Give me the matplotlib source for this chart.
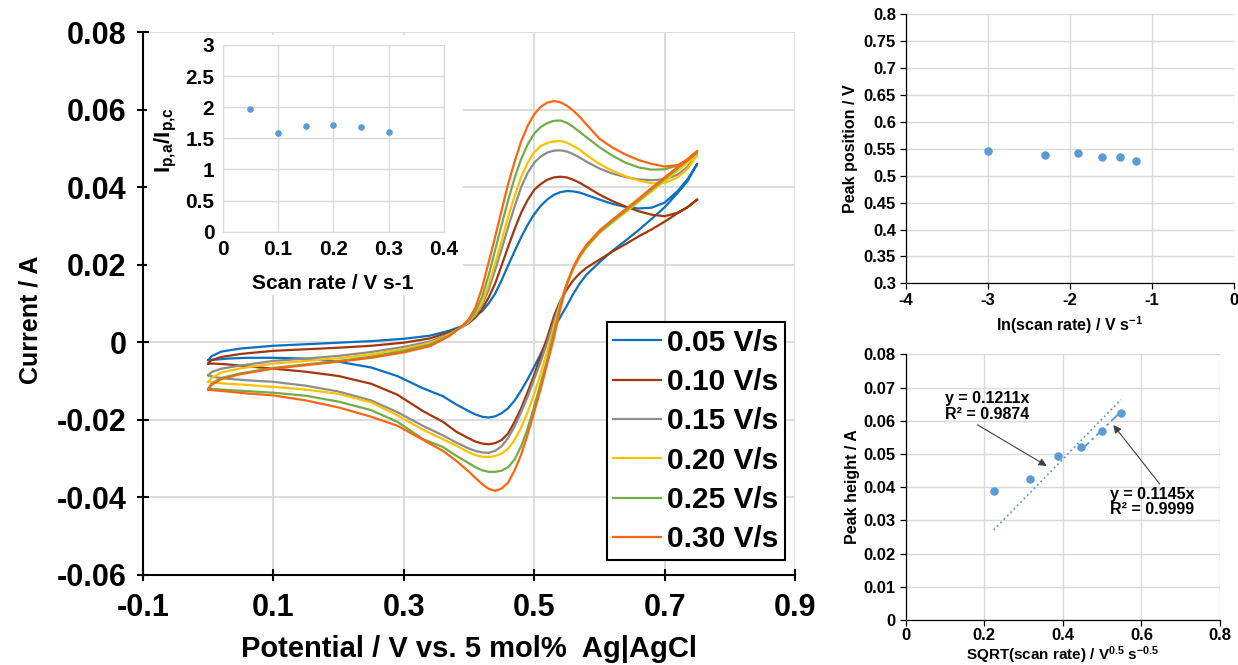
import matplotlib
matplotlib.use('Agg')
import matplotlib.pyplot as plt
from matplotlib.patches import Rectangle
import numpy as np

plt.rcParams['font.family'] = ['Liberation Sans', 'DejaVu Sans']
plt.rcParams['font.weight'] = 'bold'
plt.rcParams['mathtext.default'] = 'regular'

# ---- cyclic voltammograms (potential in V, current in A) ----
scan_labels = ['0.05 V/s', '0.10 V/s', '0.15 V/s', '0.20 V/s', '0.25 V/s', '0.30 V/s']
scan_colors = ['#0A70C2', '#A3360C', '#8C8C8C', '#FFC000', '#70AD47', '#FF6410']

E_fwd = [0.00, 0.005, 0.02, 0.05, 0.10, 0.15, 0.20, 0.25, 0.30, 0.34, 0.37, 0.39, 0.40, 0.41,
         0.42, 0.43, 0.44, 0.45, 0.46, 0.47, 0.48, 0.49, 0.50, 0.51, 0.52, 0.53, 0.54, 0.55,
         0.56, 0.57, 0.58, 0.60, 0.62, 0.64, 0.66, 0.68, 0.70, 0.72, 0.735, 0.75]
E_rev = [0.75, 0.735, 0.72, 0.70, 0.68, 0.66, 0.64, 0.62, 0.60, 0.58, 0.57, 0.56, 0.55, 0.54,
         0.53, 0.52, 0.51, 0.50, 0.49, 0.48, 0.47, 0.46, 0.45, 0.44, 0.43, 0.42, 0.41, 0.40,
         0.38, 0.36, 0.33, 0.29, 0.25, 0.20, 0.15, 0.10, 0.06, 0.03, 0.01, 0.00]

i_fwd_005 = [-0.0046, -0.0036, -0.0024, -0.0016, -0.0009, -0.0005, -0.0001, 0.0003, 0.0009, 0.0017,
             0.0030, 0.0042, 0.0052, 0.0068, 0.0080, 0.0100, 0.0125, 0.0160, 0.0198, 0.0235,
             0.0271, 0.0303, 0.0330, 0.0352, 0.0368, 0.0380, 0.0387, 0.0390, 0.0389, 0.0386,
             0.0380, 0.0368, 0.0357, 0.0349, 0.0345, 0.0347, 0.0360, 0.0390, 0.0420, 0.0460]
i_rev_005 = [0.0460, 0.0415, 0.0385, 0.0348, 0.0318, 0.0289, 0.0262, 0.0236, 0.0206, 0.0174,
             0.0152, 0.0125, 0.0094, 0.0065, 0.0035, 0.0005, -0.0030, -0.0063, -0.0095, -0.0124,
             -0.0150, -0.0170, -0.0183, -0.0191, -0.0194, -0.0192, -0.0186, -0.0178, -0.0160, -0.0139,
             -0.0119, -0.0087, -0.0065, -0.0050, -0.0042, -0.0040, -0.0040, -0.0042, -0.0045, -0.0046]

i_fwd_010 = [-0.0055, -0.0046, -0.0038, -0.0030, -0.0022, -0.0018, -0.0014, -0.0009, -0.0001, 0.0010,
             0.0026, 0.0040, 0.0050, 0.0064, 0.0085, 0.0115, 0.0151, 0.0198, 0.0246, 0.0292,
             0.0334, 0.0367, 0.0393, 0.0408, 0.0419, 0.0425, 0.0427, 0.0425, 0.0419, 0.0411,
             0.0401, 0.0381, 0.0364, 0.0350, 0.0338, 0.0329, 0.0325, 0.0334, 0.0348, 0.0368]
i_rev_010 = [0.0368, 0.0348, 0.0333, 0.0311, 0.0291, 0.0273, 0.0253, 0.0234, 0.0213, 0.0192,
             0.0178, 0.0160, 0.0136, 0.0107, 0.0066, 0.0012, -0.0035, -0.0084, -0.0128, -0.0170,
             -0.0205, -0.0235, -0.0252, -0.0260, -0.0263, -0.0261, -0.0256, -0.0248, -0.0230, -0.0205,
             -0.0178, -0.0135, -0.0107, -0.0087, -0.0076, -0.0068, -0.0062, -0.0057, -0.0055, -0.0055]

i_fwd_015 = [-0.0085, -0.0077, -0.0068, -0.0060, -0.0048, -0.0042, -0.0035, -0.0025, -0.0012, 0.0002,
             0.0022, 0.0040, 0.0052, 0.0070, 0.0095, 0.0135, 0.0186, 0.0240, 0.0297, 0.0350,
             0.0400, 0.0437, 0.0463, 0.0479, 0.0489, 0.0494, 0.0495, 0.0492, 0.0485, 0.0476,
             0.0466, 0.0448, 0.0435, 0.0426, 0.0420, 0.0418, 0.0420, 0.0432, 0.0452, 0.0485]
i_rev_015 = [0.0485, 0.0464, 0.0445, 0.0418, 0.0391, 0.0364, 0.0337, 0.0311, 0.0283, 0.0245,
             0.0221, 0.0190, 0.0150, 0.0103, 0.0052, 0.0000, -0.0050, -0.0095, -0.0140, -0.0180,
             -0.0217, -0.0247, -0.0268, -0.0280, -0.0285, -0.0284, -0.0280, -0.0274, -0.0258, -0.0240,
             -0.0216, -0.0180, -0.0150, -0.0127, -0.0112, -0.0102, -0.0098, -0.0094, -0.0090, -0.0085]

i_fwd_020 = [-0.0102, -0.0092, -0.0078, -0.0067, -0.0055, -0.0048, -0.0041, -0.0031, -0.0017, -0.0002,
             0.0020, 0.0041, 0.0054, 0.0075, 0.0102, 0.0148, 0.0203, 0.0262, 0.0323, 0.0377,
             0.0426, 0.0463, 0.0490, 0.0506, 0.0514, 0.0518, 0.0519, 0.0515, 0.0506, 0.0496,
             0.0483, 0.0460, 0.0442, 0.0428, 0.0417, 0.0410, 0.0411, 0.0425, 0.0447, 0.0482]
i_rev_020 = [0.0482, 0.0462, 0.0443, 0.0416, 0.0389, 0.0362, 0.0335, 0.0309, 0.0281, 0.0244,
             0.0220, 0.0189, 0.0148, 0.0100, 0.0040, -0.0022, -0.0080, -0.0133, -0.0180, -0.0220,
             -0.0252, -0.0274, -0.0287, -0.0293, -0.0296, -0.0295, -0.0291, -0.0284, -0.0266, -0.0250,
             -0.0226, -0.0188, -0.0155, -0.0133, -0.0122, -0.0115, -0.0110, -0.0107, -0.0104, -0.0102]

i_fwd_025 = [-0.0120, -0.0107, -0.0092, -0.0080, -0.0066, -0.0057, -0.0048, -0.0037, -0.0022, -0.0006,
             0.0018, 0.0042, 0.0056, 0.0080, 0.0117, 0.0172, 0.0237, 0.0302, 0.0366, 0.0424,
             0.0473, 0.0510, 0.0538, 0.0555, 0.0565, 0.0571, 0.0572, 0.0566, 0.0555, 0.0542,
             0.0529, 0.0503, 0.0481, 0.0463, 0.0451, 0.0445, 0.0446, 0.0456, 0.0470, 0.0491]
i_rev_025 = [0.0491, 0.0469, 0.0449, 0.0421, 0.0394, 0.0366, 0.0339, 0.0312, 0.0284, 0.0247,
             0.0223, 0.0192, 0.0151, 0.0095, 0.0025, -0.0045, -0.0105, -0.0165, -0.0222, -0.0268,
             -0.0302, -0.0322, -0.0331, -0.0334, -0.0334, -0.0330, -0.0322, -0.0312, -0.0292, -0.0270,
             -0.0250, -0.0205, -0.0175, -0.0153, -0.0138, -0.0130, -0.0126, -0.0123, -0.0121, -0.0120]

i_fwd_030 = [-0.0122, -0.0110, -0.0095, -0.0082, -0.0068, -0.0059, -0.0050, -0.0040, -0.0026, -0.0010,
             0.0016, 0.0043, 0.0060, 0.0090, 0.0140, 0.0205, 0.0271, 0.0340, 0.0408, 0.0466,
             0.0518, 0.0558, 0.0588, 0.0607, 0.0618, 0.0622, 0.0619, 0.0610, 0.0597, 0.0581,
             0.0562, 0.0525, 0.0502, 0.0484, 0.0470, 0.0460, 0.0453, 0.0457, 0.0470, 0.0493]
i_rev_030 = [0.0493, 0.0472, 0.0452, 0.0425, 0.0398, 0.0370, 0.0343, 0.0316, 0.0288, 0.0251,
             0.0226, 0.0194, 0.0150, 0.0085, 0.0010, -0.0055, -0.0120, -0.0180, -0.0237, -0.0290,
             -0.0330, -0.0362, -0.0377, -0.0383, -0.0378, -0.0365, -0.0350, -0.0334, -0.0305, -0.0280,
             -0.0252, -0.0215, -0.0192, -0.0168, -0.0150, -0.0137, -0.0132, -0.0127, -0.0124, -0.0122]

i_fwd_all = [i_fwd_005, i_fwd_010, i_fwd_015, i_fwd_020, i_fwd_025, i_fwd_030]
i_rev_all = [i_rev_005, i_rev_010, i_rev_015, i_rev_020, i_rev_025, i_rev_030]

# ---- scan rate analysis ----
scan_rate = [0.05, 0.10, 0.15, 0.20, 0.25, 0.30]
peak_ratio = [1.97, 1.59, 1.70, 1.72, 1.68, 1.61]
ln_rate = [-3.00, -2.30, -1.90, -1.61, -1.39, -1.20]
peak_pos = [0.546, 0.539, 0.542, 0.535, 0.534, 0.527]
sqrt_rate = [0.224, 0.316, 0.387, 0.447, 0.500, 0.548]
peak_height = [0.0388, 0.0426, 0.0494, 0.0521, 0.0570, 0.0623]
fit_all_slope, fit_all_r2 = 0.1211, 0.9874
fit_fast_slope, fit_fast_r2 = 0.1145, 0.9999

W, H = 1238, 665
GRID = '#D9D9D9'
DOT = '#5B9BD5'

fig = plt.figure(figsize=(W / 100, H / 100), dpi=100)


def px_axes(x0, y0, x1, y1):
    return fig.add_axes([x0 / W, 1 - y1 / H, (x1 - x0) / W, (y1 - y0) / H])


def px_text(x, y, s, **kw):
    return fig.text(x / W, 1 - y / H, s, ha='center', va='center', **kw)


# main CV panel
ax = px_axes(143, 32, 795, 575)
for i_f, i_r, lab, c in zip(i_fwd_all, i_rev_all, scan_labels, scan_colors):
    ax.plot(E_fwd + E_rev, i_f + i_r, color=c, lw=1.6, label=lab, zorder=3,
            solid_joinstyle='round')
ax.set_xlim(-0.1, 0.9)
ax.set_ylim(-0.06, 0.08)
xt = np.arange(-0.1, 0.91, 0.2)
ax.set_xticks(xt)
ax.set_xticklabels(['%.1f' % v for v in xt])
yt = np.arange(-0.06, 0.081, 0.02)
ax.set_yticks(yt)
ax.set_yticklabels(['0' if abs(v) < 1e-9 else '%.2f' % v for v in yt])
ax.grid(True, color=GRID, lw=1.3)
ax.set_axisbelow(True)
for s in ['top', 'right']:
    ax.spines[s].set_visible(False)
for s in ['left', 'bottom']:
    ax.spines[s].set_linewidth(1.5)
ax.tick_params(direction='inout', length=8, width=1.5, labelsize=22)
ax.tick_params(axis='y', pad=8)
ax.tick_params(axis='x', pad=9)

leg = ax.legend(loc='lower right', bbox_to_anchor=((785 - 143) / 652, (575 - 560) / 543),
                borderaxespad=0, fontsize=21.5, handlelength=1.6, handletextpad=0.2,
                labelspacing=0.38, borderpad=0.22, fancybox=False, edgecolor='black',
                framealpha=1)
leg.get_frame().set_linewidth(1.5)

# white chart area behind the inset
ax.add_patch(Rectangle((4 / 652, (575 - 295) / 543), (463 - 147) / 652, (295 - 35) / 543,
                       transform=ax.transAxes, facecolor='white', edgecolor='none', zorder=2.5))

px_text(469, 649, 'Potential / V vs. 5 mol%  Ag|AgCl', fontsize=21)
px_text(31, 320, 'Current / A', fontsize=18, rotation=90)

# inset: peak current ratio
ins = px_axes(222.7, 45, 444, 231.7)
ins.scatter(scan_rate, peak_ratio, s=14, color=DOT, zorder=3)
ins.set_xlim(0, 0.4)
ins.set_ylim(0, 3)
ins.set_xticks([0, 0.1, 0.2, 0.3, 0.4])
ins.set_xticklabels(['0', '0.1', '0.2', '0.3', '0.4'])
ins.set_yticks([0, 0.5, 1, 1.5, 2, 2.5, 3])
ins.set_yticklabels(['0', '0.5', '1', '1.5', '2', '2.5', '3'])
ins.grid(True, color=GRID, lw=1.0)
ins.set_axisbelow(True)
for s in ins.spines.values():
    s.set_color(GRID)
ins.tick_params(length=0, labelsize=15, pad=6)
px_text(333, 283, 'Scan rate / V s-1', fontsize=15)
px_text(166, 140, r'I$_{p{,}a}$/I$_{p{,}c}$', fontsize=16, rotation=90)

# peak position vs ln(scan rate)
ax2 = px_axes(905.7, 14.3, 1234.3, 283.3)
ax2.scatter(ln_rate, peak_pos, s=26, color=DOT, zorder=3)
ax2.set_xlim(-4, 0)
ax2.set_ylim(0.3, 0.8)
ax2.set_xticks([-4, -3, -2, -1, 0])
ax2.set_xticklabels(['-4', '-3', '-2', '-1', '0'])
yt2 = np.arange(0.3, 0.801, 0.05)
ax2.set_yticks(yt2)
ax2.set_yticklabels(['%g' % round(v, 2) for v in yt2])
px_text(850, 148.8, 'Peak position / V', fontsize=11.5, rotation=90)
px_text(1070, 325, 'ln(scan rate) / V s$^{-1}$', fontsize=11.5)

# peak height vs sqrt(scan rate)
ax3 = px_axes(905.7, 354.3, 1220, 620)
ax3.scatter(sqrt_rate, peak_height, s=26, color=DOT, zorder=3)
x_all = np.array([sqrt_rate[0], sqrt_rate[-1]])
ax3.plot(x_all, fit_all_slope * x_all, ls=':', color=DOT, lw=1.3)
x_fast = np.array([sqrt_rate[3], sqrt_rate[-1]])
ax3.plot(x_fast, fit_fast_slope * x_fast, ls=(0, (6, 2, 1.5, 2)), color=DOT, lw=1.3)
ax3.set_xlim(0, 0.8)
ax3.set_ylim(0, 0.08)
ax3.set_xticks([0, 0.2, 0.4, 0.6, 0.8])
ax3.set_xticklabels(['0', '0.2', '0.4', '0.6', '0.8'])
yt3 = np.arange(0, 0.081, 0.01)
ax3.set_yticks(yt3)
ax3.set_yticklabels(['0'] + ['%.2f' % v for v in yt3[1:]])
ax3.annotate('y = %.4fx\nR² = %.4f' % (fit_all_slope, fit_all_r2), xy=(0.359, 0.0464),
             xytext=(0.10, 0.0688), ha='left', va='top', fontsize=11.5, linespacing=1.05,
             arrowprops=dict(arrowstyle='-|>', color='#404040', lw=0.8,
                             shrinkA=0, shrinkB=0, relpos=(0.33, 0.0)))
ax3.annotate('y = %.4fx\nR² = %.4f' % (fit_fast_slope, fit_fast_r2), xy=(0.5285, 0.0587),
             xytext=(0.52, 0.0401), ha='left', va='top', fontsize=11.5, linespacing=1.05,
             arrowprops=dict(arrowstyle='-|>', color='#404040', lw=0.8,
                             shrinkA=0, shrinkB=0, relpos=(0.6, 1.05)))
px_text(853, 487, 'Peak height / A', fontsize=11.5, rotation=90)

for a in (ax2, ax3):
    a.grid(True, color=GRID, lw=1.0)
    a.set_axisbelow(True)
    for s in ['top', 'right']:
        a.spines[s].set_visible(False)
    for s in ['left', 'bottom']:
        a.spines[s].set_linewidth(0.9)
    a.tick_params(direction='out', length=4.5, width=0.9, labelsize=12, pad=2.5)
ax3.tick_params(axis='x', pad=1.5)
px_text(1063, 655, 'SQRT(scan rate) / V$^{0.5}$ s$^{-0.5}$', fontsize=11)

fig.savefig('out.png', dpi=100)
